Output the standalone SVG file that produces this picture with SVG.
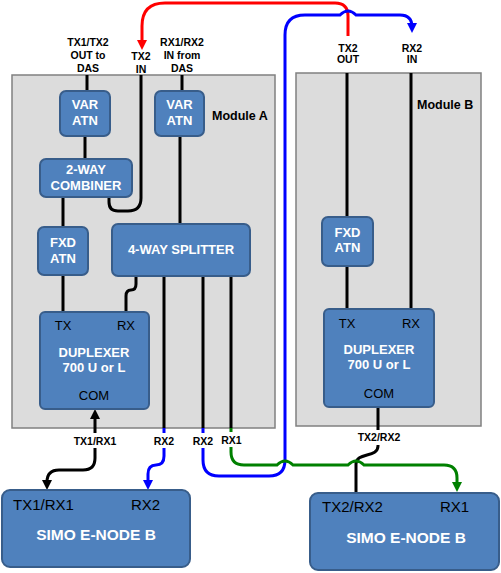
<svg xmlns="http://www.w3.org/2000/svg" width="501" height="573" viewBox="0 0 501 573">
<style>
.mod{fill:#dcdcdc;stroke:#808080;stroke-width:1.5}
.node{fill:#4f81bd;stroke:#385d8a;stroke-width:2}
.nt{font-family:"Liberation Sans",Arial,sans-serif;font-size:13px;font-weight:bold;fill:#fff;text-anchor:middle}
.pt{font-family:"Liberation Sans",Arial,sans-serif;font-size:13px;fill:#000;text-anchor:middle}
.st{font-family:"Liberation Sans",Arial,sans-serif;font-size:15px;fill:#000}
.sb{font-family:"Liberation Sans",Arial,sans-serif;font-size:15.5px;font-weight:bold;fill:#fff;text-anchor:middle}
.tl{font-family:"Liberation Sans",Arial,sans-serif;font-size:10.5px;font-weight:bold;fill:#000;text-anchor:middle}
.tr{font-family:"Liberation Sans",Arial,sans-serif;font-size:10.5px;font-weight:bold;fill:#000;text-anchor:middle}
.bl{font-family:"Liberation Sans",Arial,sans-serif;font-size:10.5px;font-weight:bold;fill:#000;text-anchor:middle}
.ml{font-family:"Liberation Sans",Arial,sans-serif;font-size:12.5px;font-weight:bold;fill:#000}
.k{fill:none;stroke:#000;stroke-width:3}
.r{fill:none;stroke:#ff0000;stroke-width:3}
.b{fill:none;stroke:#0000ff;stroke-width:3}
.g{fill:none;stroke:#008000;stroke-width:3}
.lb{fill:#fff}
</style>
<defs>
<marker id="ak" viewBox="0 0 10 10" refX="6" refY="5" markerWidth="10" markerHeight="10" markerUnits="userSpaceOnUse" orient="auto-start-reverse"><path d="M0,0 L10,5 L0,10 z" fill="#000"/></marker>
<marker id="ar" viewBox="0 0 10 10" refX="6" refY="5" markerWidth="10" markerHeight="10" markerUnits="userSpaceOnUse" orient="auto"><path d="M0,0 L10,5 L0,10 z" fill="#ff0000"/></marker>
<marker id="ab" viewBox="0 0 10 10" refX="6" refY="5" markerWidth="10" markerHeight="10" markerUnits="userSpaceOnUse" orient="auto"><path d="M0,0 L10,5 L0,10 z" fill="#0000ff"/></marker>
<marker id="ag" viewBox="0 0 10 10" refX="6" refY="5" markerWidth="10" markerHeight="10" markerUnits="userSpaceOnUse" orient="auto"><path d="M0,0 L10,5 L0,10 z" fill="#008000"/></marker>
</defs>
<rect width="501" height="573" fill="#fff"/>

<g id="moduleA"><rect class="mod" x="12" y="75" width="263" height="353"/><text class="ml" x="212" y="120">Module A</text></g>
<g id="moduleB"><rect class="mod" x="296" y="73" width="185" height="353"/><text class="ml" x="417" y="109">Module B</text></g>

<g id="connectors">
<path class="k" d="M87,75 V91"/>
<path class="k" d="M85,136 V159"/>
<path class="k" d="M182,75 V91"/>
<path class="k" d="M180,136 V224"/>
<path class="k" d="M63,197 V227"/>
<path class="k" d="M63,275 V312"/>
<path class="k" d="M141,75 V198 Q141,211 128,211 H118 Q109,211 109,202 V197"/>
<path class="k" d="M136,276 V284 Q136,290 131,290 Q126,290 126,296 V312"/>
<path class="k" d="M164,276 V428"/>
<path class="k" d="M203,276 V428"/>
<path class="k" d="M231,276 V428"/>
<path class="k" d="M347,73 V217"/>
<path class="k" d="M347,266 V309"/>
<path class="k" d="M411,73 V309"/>
<path class="k" d="M95,413 V458 Q95,470 83,470 H59 Q47,470 47,482 V486" marker-start="url(#ak)" marker-end="url(#ak)"/>
<path class="k" d="M378,407 V446 C378,458 356,452 356,464 V493"/>
<path class="r" d="M348,36 V16 Q348,3 335,3 H165 Q142,3 142,26 V46" marker-end="url(#ar)"/>
<path class="b" d="M164,428 V456 Q164,465 156,465 Q148,465 148,474 V486" marker-end="url(#ab)"/>
<path class="b" d="M203,428 V460 Q203,476 219,476 H269 Q285,476 285,460 V35 Q285,15 305,15 H340 Q348,7 356,15 H400 Q412,15 412,27 V29" marker-end="url(#ab)"/>
<path class="g" d="M231,428 V452 Q231,465 244,465 H277 Q285,457 293,465 H348 Q356,457 364,465 H444 Q457,465 457,478 V488" marker-end="url(#ag)"/>
</g>

<g id="labels">
<text class="tl" x="88" y="46">TX1/TX2</text><text class="tl" x="88" y="59">OUT to</text><text class="tl" x="88" y="72">DAS</text>
<text class="tl" x="141" y="60">TX2</text><text class="tl" x="141" y="73">IN</text>
<text class="tl" x="182" y="46">RX1/RX2</text><text class="tl" x="182" y="59">IN from</text><text class="tl" x="182" y="72">DAS</text>
<text class="tr" x="348" y="52">TX2</text><text class="tr" x="348" y="63">OUT</text>
<text class="tr" x="412" y="52">RX2</text><text class="tr" x="412" y="63">IN</text>
<rect class="lb" x="72" y="433" width="46" height="15"/><text class="bl" x="95" y="445">TX1/RX1</text>
<rect class="lb" x="153" y="433" width="22" height="15"/><text class="bl" x="164" y="445">RX2</text>
<rect class="lb" x="192" y="433" width="22" height="15"/><text class="bl" x="203" y="445">RX2</text>
<rect class="lb" x="221" y="432" width="21" height="15"/><text class="bl" x="231.5" y="444">RX1</text>
<rect class="lb" x="356" y="430" width="46" height="15"/><text class="bl" x="379" y="441">TX2/RX2</text>
</g>

<g id="varatn1"><rect class="node" x="60" y="91" width="50" height="45" rx="6"/><text class="nt" x="85" y="109">VAR</text><text class="nt" x="85" y="125">ATN</text></g>
<g id="varatn2"><rect class="node" x="155" y="91" width="49" height="45" rx="6"/><text class="nt" x="179.5" y="109">VAR</text><text class="nt" x="179.5" y="125">ATN</text></g>
<g id="combiner"><rect class="node" x="40" y="159" width="92" height="38" rx="6"/><text class="nt" x="86" y="174">2-WAY</text><text class="nt" x="86" y="190">COMBINER</text></g>
<g id="fxdatnA"><rect class="node" x="38" y="227" width="50" height="48" rx="6"/><text class="nt" x="63" y="247">FXD</text><text class="nt" x="63" y="263">ATN</text></g>
<g id="splitter"><rect class="node" x="112" y="224" width="138" height="52" rx="6"/><text class="nt" x="181" y="254">4-WAY SPLITTER</text></g>
<g id="duplexerA"><rect class="node" x="40" y="312" width="109" height="97" rx="5"/><text class="pt" x="63" y="330">TX</text><text class="pt" x="126" y="330">RX</text><text class="nt" x="94" y="357">DUPLEXER</text><text class="nt" x="94" y="372">700 U or L</text><text class="pt" x="94" y="400">COM</text></g>
<g id="fxdatnB"><rect class="node" x="322" y="217" width="51" height="49" rx="6"/><text class="nt" x="347.5" y="237">FXD</text><text class="nt" x="347.5" y="252">ATN</text></g>
<g id="duplexerB"><rect class="node" x="324" y="309" width="110" height="98" rx="5"/><text class="pt" x="347" y="328">TX</text><text class="pt" x="411" y="328">RX</text><text class="nt" x="379" y="354">DUPLEXER</text><text class="nt" x="379" y="369">700 U or L</text><text class="pt" x="379" y="398">COM</text></g>
<g id="simoA"><rect class="node" x="2" y="490" width="188" height="77" rx="8"/><text class="st" x="13" y="510">TX1/RX1</text><text class="st" x="131" y="510">RX2</text><text class="sb" x="96" y="540">SIMO E-NODE B</text></g>
<g id="simoB"><rect class="node" x="310" y="493" width="189" height="77" rx="8"/><text class="st" x="322" y="512">TX2/RX2</text><text class="st" x="440" y="512">RX1</text><text class="sb" x="406" y="543">SIMO E-NODE B</text></g>
</svg>
